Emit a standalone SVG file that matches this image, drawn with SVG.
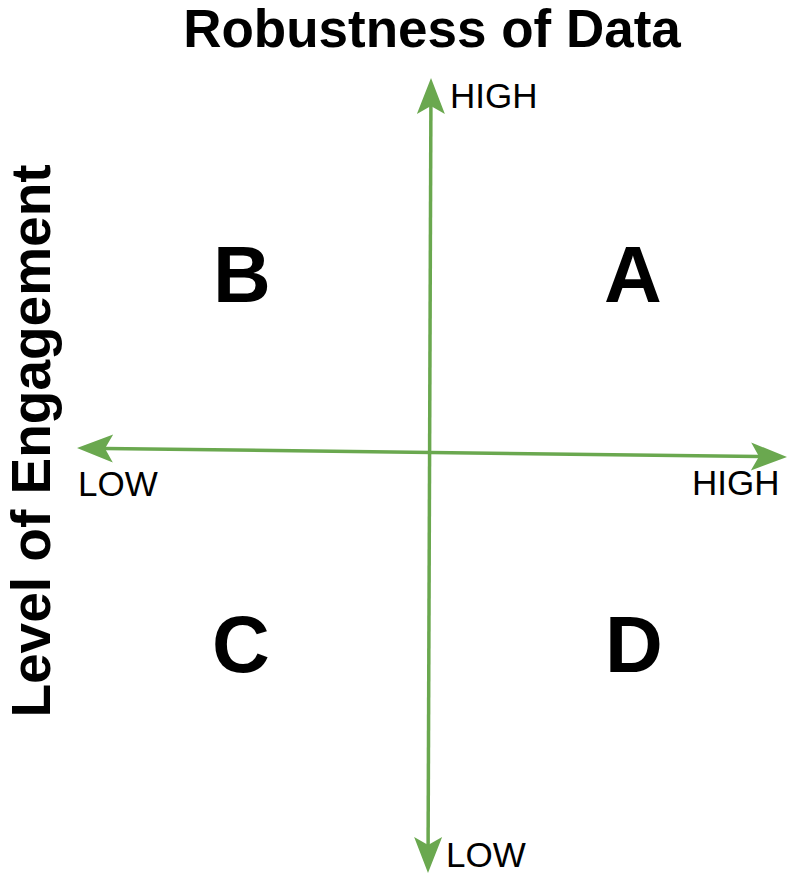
<svg xmlns="http://www.w3.org/2000/svg" width="788" height="875" viewBox="0 0 788 875">
<style>
.axis{stroke:#6aa84f;stroke-width:3.5;fill:none;marker-start:url(#ah);marker-end:url(#ah)}
.t{font-family:"Liberation Sans",Arial,sans-serif;fill:#000}
.big{font-size:80px;font-weight:bold;text-anchor:middle}
.lab{font-size:35px}
.title{font-size:53px;font-weight:bold;text-anchor:middle}
</style>
<defs>
<marker id="ah" markerUnits="userSpaceOnUse" orient="auto-start-reverse" markerWidth="60" markerHeight="40" viewBox="-20 -20 60 40" refX="0" refY="0" overflow="visible">
<path d="M28,0 L-8,-14 L0,0 L-8,14 Z" fill="#6aa84f"/>
</marker>
</defs>
<rect width="788" height="875" fill="#fff"/>
<g id="connectors">
<line class="axis" x1="430.9" y1="106" x2="428.1" y2="845"/>
<line class="axis" x1="105" y1="448.4" x2="759" y2="456.6"/>
</g>
<g id="title"><text class="t title" x="432" y="47">Robustness of Data</text></g>
<g id="ylabel"><text class="t title" transform="translate(50,441) rotate(-90)" x="0" y="0" style="font-size:55px">Level of Engagement</text></g>
<g id="qB"><text class="t big" x="242" y="302">B</text></g>
<g id="qA"><text class="t big" x="633" y="302">A</text></g>
<g id="qC"><text class="t big" x="241" y="672">C</text></g>
<g id="qD"><text class="t big" x="634" y="672">D</text></g>
<g id="lblTopHigh"><text class="t lab" x="450" y="108">HIGH</text></g>
<g id="lblLeftLow"><text class="t lab" x="78" y="496">LOW</text></g>
<g id="lblRightHigh"><text class="t lab" x="692" y="495">HIGH</text></g>
<g id="lblBottomLow"><text class="t lab" x="446" y="867">LOW</text></g>
</svg>
